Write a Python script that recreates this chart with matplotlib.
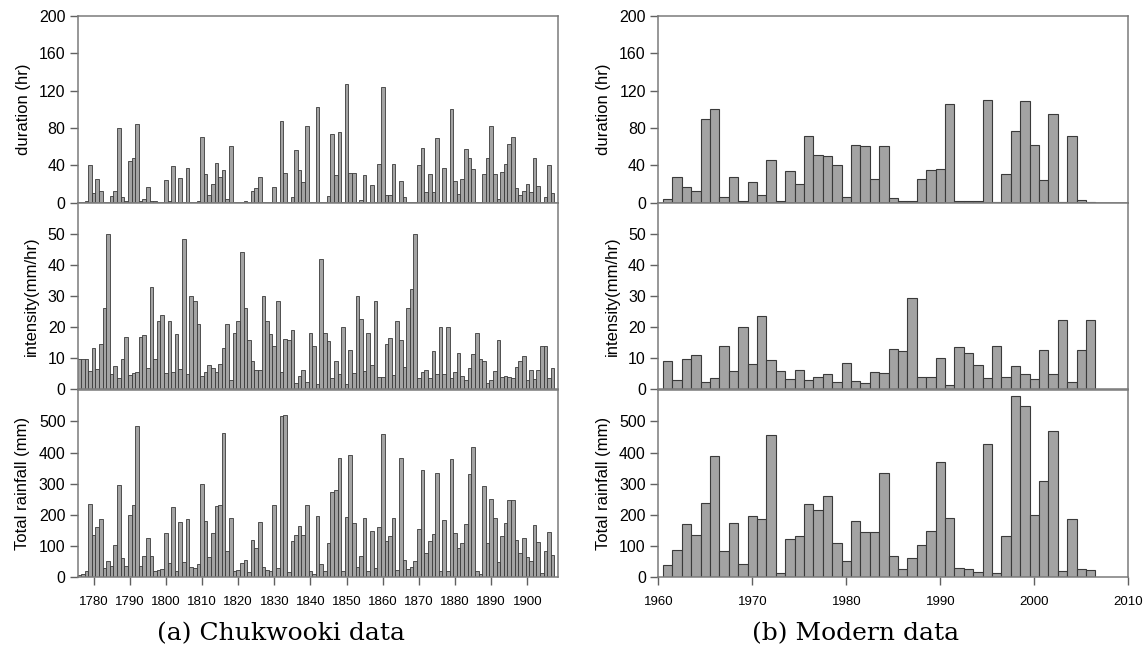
import numpy as np
import matplotlib.pyplot as plt

plt.rcParams['font.family'] = ['Liberation Sans', 'DejaVu Sans']

# Chukwooki data, 1776-1907
years_a = np.arange(1776, 1908)
dur_a = [0.5, 1, 2, 40, 10, 25, 13, 1, 1, 7, 13, 80, 6, 2, 45, 48, 84, 2, 4, 17,
         2, 2, 1, 1, 24, 2, 39, 1, 26, 1, 37, 1, 1, 2, 70, 31, 8, 20, 42, 28,
         35, 4, 61, 1, 1, 1, 2, 1, 13, 16, 27, 1, 1, 1, 16.5, 1, 88, 32, 1, 6,
         56, 35, 22, 82, 1, 1, 102, 1, 1, 7, 74, 30, 76, 1, 127, 32, 32, 1, 3, 30,
         1, 18.5, 1, 41, 124, 8, 8, 41.5, 1, 23.6, 6.4, 1, 1, 1, 40, 58.6, 11, 31, 11, 69,
         1, 37.5, 1, 100, 23.6, 9, 25, 58, 47.5, 36, 1, 1, 31, 48, 82.5, 31, 3.6, 32.5, 41, 62.5,
         70, 16, 8.6, 12.5, 19.6, 11, 48, 18, 1, 6.4, 40, 10]
int_a = [9.6, 9.6, 9.6, 5.8, 13.2, 6.4, 14.4, 26, 50, 5, 7.6, 3.7, 9.7, 16.9, 4.7, 5.1, 5.5, 16.9, 17.3, 6.8,
         33, 9.8, 21.9, 24, 5.3, 21.9, 5.7, 17.8, 6.5, 48.4, 5, 30, 28.3, 21.1, 4.2, 5.7, 7.9, 7, 5.5, 8,
         13.2, 21, 3, 18, 22, 44.2, 26, 16, 9, 6.1, 6.3, 29.9, 21.9, 17.8, 14, 28.3, 5.7, 16.2, 16, 19,
         2.1, 4.4, 6.1, 2.5, 18, 13.8, 1.8, 42, 18, 15.4, 3.7, 9, 5, 20, 1.6, 12.6, 5.2, 30, 22.7, 6,
         18, 7.7, 28.3, 4, 3.8, 14.4, 16.6, 4.5, 22, 15.9, 7.3, 26, 32.2, 50, 3.7, 5.7, 6.3, 3.7, 12.3, 5,
         20, 5, 20, 3.7, 5.5, 11.6, 4.2, 2.9, 6.7, 11.3, 18, 9.7, 9.1, 2, 3, 6, 16, 3.8, 4.2, 4,
         3.5, 7.2, 9, 10.6, 2.9, 6.1, 3.2, 6.1, 13.8, 13.8, 3.6, 7]
rain_a = [8, 10, 20, 234, 135, 162, 187, 28, 50, 35, 103, 296, 60, 35, 200, 232, 485, 35, 69, 126,
          66, 19, 23, 27, 141, 45, 224, 20, 176, 48, 187, 33, 30, 41, 299, 181, 63, 140, 228, 231,
          464, 85, 189, 19, 22, 44, 55, 17, 119, 94, 176, 31, 24, 19, 231, 30, 517, 521, 17, 117,
          134, 165, 135, 231, 19, 11, 197, 41, 19, 109, 274, 280, 381, 19, 194, 393, 174, 32, 68, 189,
          19, 149, 30, 160, 461, 116, 133, 189, 22, 383, 54, 27, 32, 50, 153, 343, 76, 116, 137, 333,
          19, 182, 19, 378, 140, 94, 110, 169, 331, 417, 19, 11, 294, 109, 250, 189, 47, 133, 174, 249,
          249, 119, 76, 124, 63, 52, 168, 113, 14, 85, 144, 70]

# Modern data, 1961-2006
years_b = np.arange(1961, 2007)
dur_b = [4, 28, 17, 12.5, 90, 100, 6, 28, 1.5, 22.5, 8, 46, 2, 34, 20, 71, 51, 50, 40, 6,
         62, 61, 25, 61, 5, 1.5, 1.5, 25, 35, 36, 106, 1.5, 1.5, 1.5, 110, 0.5, 31, 77, 109, 62,
         24, 95, 1, 71, 2.4, 1]
int_b = [9.1, 3, 9.7, 11, 2.3, 3.6, 14, 6, 20, 8.2, 23.5, 9.3, 6, 3.3, 6.3, 3, 3.9, 4.9, 2.3, 8.5,
         2.6, 2, 5.5, 5.2, 13.1, 12.3, 29.2, 3.9, 3.9, 10.1, 1.5, 13.7, 11.6, 7.7, 3.6, 14, 3.9, 7.4, 5, 3.2,
         12.7, 5, 22.3, 2.5, 12.7, 22.3]
rain_b = [38, 88, 169, 135, 239, 389, 85, 173, 42, 195, 187, 457, 13, 122, 132, 236, 215, 260, 109, 53,
          179, 146, 146, 335, 66, 26, 60, 104, 148, 369, 191, 29, 26, 16, 429, 13, 133, 582, 550, 198,
          310, 470, 20, 188, 25, 22]

ylabels = ['duration (hr)', 'intensity(mm/hr)', 'Total rainfall (mm)']
ylims = [200, 60, 600]
yticks = [np.arange(0, 201, 40), np.arange(0, 51, 10), np.arange(0, 501, 100)]

fig = plt.figure(figsize=(11.47, 6.51), dpi=100)

cols = [
    (78 / 1147, 479.7 / 1147, years_a, [dur_a, int_a, rain_a], (1775.7, 1908.4), np.arange(1780, 1901, 10), 0.6),
    (658.3 / 1147, 470 / 1147, years_b, [dur_b, int_b, rain_b], (1960, 2010), np.arange(1960, 2011, 10), 0.8),
]
h = 186.7 / 651
bottoms = [1 - 202.7 / 651, 1 - 389.3 / 651, 1 - 577 / 651]

for left, width, yrs, series, xlim, xt, lw in cols:
    for i in range(3):
        ax = fig.add_axes([left, bottoms[i], width, h])
        ax.bar(yrs, series[i], width=1.0, color='#a3a3a3', edgecolor='#3a3a3a', linewidth=lw)
        ax.set_xlim(*xlim)
        ax.set_ylim(0, ylims[i])
        ax.set_yticks(yticks[i])
        ax.tick_params(axis='y', direction='out', length=6, width=1, color='#606060',
                       labelsize=11.5, pad=3)
        for s in ax.spines.values():
            s.set_color('#7a7a7a')
            s.set_linewidth(1.1)
        ax.set_ylabel(ylabels[i], fontsize=12, labelpad=6)
        if i == 2:
            ax.set_xticks(xt)
            ax.tick_params(axis='x', direction='out', length=6, width=1, color='#606060',
                           labelsize=9.5, pad=8)
        else:
            ax.set_xticks([])

fig.text(0.245, 0.016, '(a) Chukwooki data', fontsize=18, family='DejaVu Serif', ha='center')
fig.text(0.746, 0.016, '(b) Modern data', fontsize=18, family='DejaVu Serif', ha='center')

plt.savefig('out.png', dpi=100)
plt.close()
